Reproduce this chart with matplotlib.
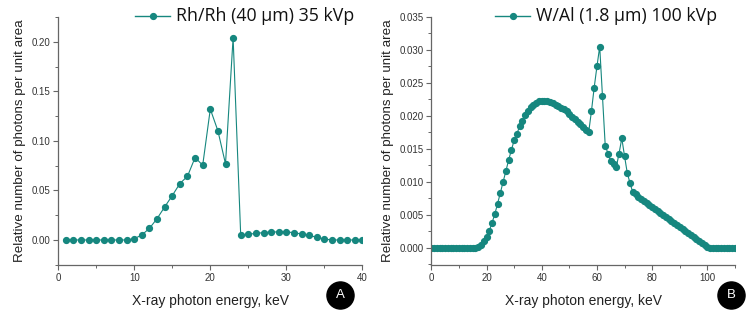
import matplotlib
matplotlib.use("Agg")
import matplotlib.pyplot as plt
from matplotlib.lines import Line2D
from matplotlib.ticker import MultipleLocator

# panel A: Rh/Rh (40 um) 35 kVp
energy_a = list(range(1, 41))
photons_a = [0, 0, 0, 0, 0, 0, 0, 0, 0, 0.0013,
             0.0051, 0.0118, 0.0216, 0.0334, 0.0449, 0.057, 0.0644, 0.0833, 0.0755, 0.1322,
             0.1103, 0.0769, 0.2044, 0.0047, 0.0057, 0.0067, 0.0074, 0.0081, 0.0081, 0.0081,
             0.0074, 0.006, 0.0047, 0.0027, 0.001, 0, 0, 0, 0, 0]

# panel B: W/Al (1.8 um) 100 kVp
energy_b = list(range(0, 111))
photons_b = ([0] * 17 +
             [0.0002, 0.0005, 0.001, 0.0016, 0.0026, 0.0038, 0.0051, 0.0067, 0.0083, 0.0100,
              0.0116, 0.0133, 0.0148, 0.0163, 0.0173, 0.0184, 0.0193, 0.0201, 0.0208, 0.0213,
              0.0217, 0.0220, 0.0222, 0.0223, 0.0223, 0.0222, 0.0221, 0.0219, 0.0217, 0.0215,
              0.0212, 0.0210, 0.0207, 0.0203, 0.0199, 0.0195, 0.0191, 0.0187, 0.0183, 0.0179,
              0.0175, 0.0207, 0.0243, 0.0275, 0.0305, 0.0230, 0.0155, 0.0143, 0.0131, 0.0127,
              0.0122, 0.0143, 0.0166, 0.0139, 0.0113, 0.0098, 0.0084, 0.0081, 0.0077, 0.0074,
              0.0071, 0.0068, 0.0065, 0.0062, 0.0059, 0.0056, 0.0053, 0.0050, 0.0047, 0.0044,
              0.0041, 0.0038, 0.0035, 0.0032, 0.0029, 0.0026, 0.0023, 0.0020, 0.0017, 0.0014,
              0.0011, 0.0008, 0.0005, 0.0002] +
             [0] * 10)

label_a = "Rh/Rh (40 \u00b5m) 35 kVp"
label_b = "W/Al (1.8 \u00b5m) 100 kVp"

teal = "#16877f"
axis_col = "#666666"

plt.rcParams["font.family"] = ["Liberation Sans", "DejaVu Sans"]

fig = plt.figure(figsize=(7.48, 3.14), dpi=100)


def setup_axes(ax, xlim, ylim, xmaj, xmin, ymaj, ymin, yfmt):
    ax.set_xlim(*xlim)
    ax.set_ylim(*ylim)
    for s in ("top", "right"):
        ax.spines[s].set_visible(False)
    for s in ("left", "bottom"):
        ax.spines[s].set_color(axis_col)
        ax.spines[s].set_linewidth(0.9)
    ax.xaxis.set_major_locator(MultipleLocator(xmaj))
    ax.xaxis.set_minor_locator(MultipleLocator(xmin))
    ax.yaxis.set_major_locator(MultipleLocator(ymaj))
    ax.yaxis.set_minor_locator(MultipleLocator(ymin))
    ax.yaxis.set_major_formatter(yfmt)
    ax.tick_params(which="major", direction="out", length=3.5, width=0.8,
                   color=axis_col, labelsize=7, labelcolor="#333333", pad=2)
    ax.tick_params(which="minor", direction="out", length=2, width=0.7, color=axis_col)
    ax.set_xlabel("X-ray photon energy, keV", fontsize=10, color="#222222", labelpad=8)
    ax.set_ylabel("Relative number of photons per unit area", fontsize=9.6,
                  color="#222222", labelpad=4)


def add_legend(fx, fy, text):
    # legend sample (line + marker) and big text, in figure coords
    fig.add_artist(Line2D([fx, fx + 0.047], [fy, fy], color=teal, lw=1.0,
                          transform=fig.transFigure))
    fig.add_artist(Line2D([fx + 0.0235], [fy], color=teal, marker="o", markersize=4.2,
                          lw=0, transform=fig.transFigure))
    fig.text(fx + 0.055, fy, text, fontsize=12.8, family=["Open Sans", "DejaVu Sans"],
             va="center", ha="left", color="#111111")


def add_badge(px, py, letter):
    fx, fy = px / 748, 1 - py / 314
    fig.add_artist(Line2D([fx], [fy], color="black", marker="o", markersize=19.5,
                          lw=0, transform=fig.transFigure))
    fig.text(fx, fy, letter, color="white", fontsize=9.5, ha="center", va="center")


ax1 = fig.add_axes([0.0779, 0.156, 0.4065, 0.790])
ax1.plot(energy_a, photons_a, color=teal, lw=0.8, marker="o", markersize=4.2)
setup_axes(ax1, (0, 40), (-0.0253, 0.2253), 10, 5, 0.05, 0.025, "{x:.2f}")

ax2 = fig.add_axes([0.5766, 0.156, 0.406, 0.790])
ax2.plot(energy_b, photons_b, color=teal, lw=0.8, marker="o", markersize=4.2)
setup_axes(ax2, (0, 110), (-0.0026, 0.035), 20, 10, 0.005, 0.0025, "{x:.3f}")

add_legend(135 / 748, 1 - 16 / 314, label_a)
add_legend(495 / 748, 1 - 16 / 314, label_b)

add_badge(340, 295, "A")
add_badge(731, 295, "B")

fig.savefig("out.png", dpi=100)
